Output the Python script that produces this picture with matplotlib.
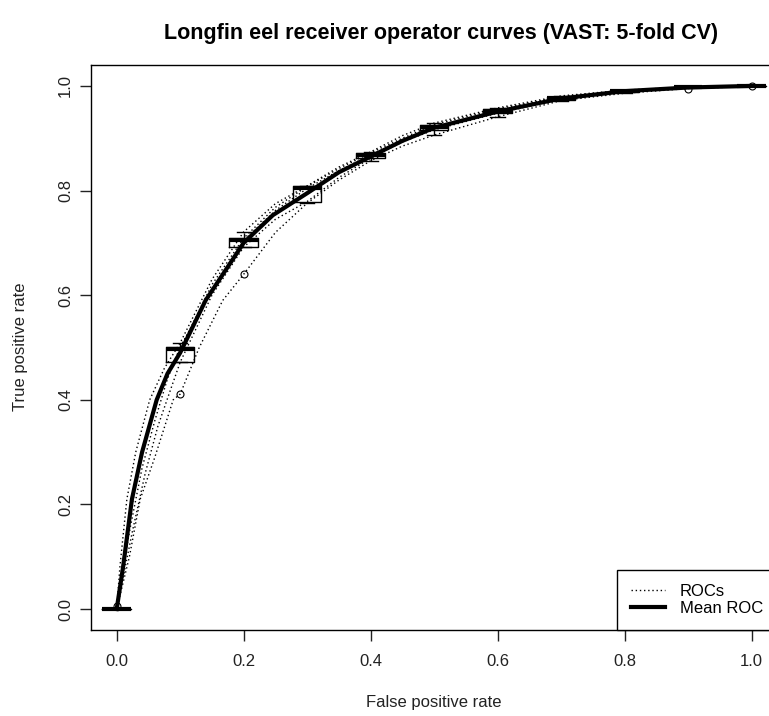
import numpy as np
import matplotlib.pyplot as plt

plt.rcParams['font.family'] = ['Liberation Sans', 'DejaVu Sans']

# ROC-curves van de 5 folds
fpr_1 = [0, .01, .02, .037, .06, .089, .1, .13, .167, .2, .25, .3, .35, .4, .45, .5, .6, .7, .8, .9, 1]
tpr_1 = [0, .05, .10, .21, .29, .40, .411, .50, .59, .64, .72, .776, .82, .857, .885, .906, .941, .972, .986, .995, .999]

fpr_2 = [0, .005, .016, .03, .052, .075, .1, .15, .2, .25, .3, .35, .4, .45, .5, .6, .7, .8, .9, 1]
tpr_2 = [0, .08, .21, .30, .40, .46, .509, .63, .721, .775, .809, .845, .874, .905, .929, .958, .981, .992, .998, 1]

fpr_3 = [0, .008, .02, .035, .055, .08, .1, .15, .2, .25, .3, .35, .4, .45, .5, .6, .7, .8, .9, 1]
tpr_3 = [0, .07, .17, .27, .37, .45, .497, .62, .709, .768, .808, .842, .872, .90, .926, .956, .979, .991, .998, 1]

fpr_4 = [0, .01, .022, .04, .06, .08, .1, .15, .2, .25, .3, .35, .4, .45, .5, .6, .7, .8, .9, 1]
tpr_4 = [0, .08, .16, .27, .36, .44, .501, .61, .705, .762, .804, .838, .868, .896, .921, .952, .977, .990, .998, 1]

fpr_5 = [0, .01, .025, .045, .065, .085, .1, .15, .2, .25, .3, .35, .4, .45, .5, .6, .7, .8, .9, 1]
tpr_5 = [.006, .06, .15, .26, .35, .42, .472, .60, .692, .745, .779, .825, .862, .893, .916, .948, .974, .988, .998, 1]

# gemiddelde ROC
mean_fpr = [0, .01, .024, .04, .063, .08, .1, .14, .2, .246, .3, .35, .4, .45, .5, .6, .7, .8, .9, 1]
mean_tpr = [0, .08, .21, .30, .40, .45, .49, .59, .70, .753, .795, .835, .865, .895, .92, .951, .976, .990, .997, 1]

# posities van de boxplots
box_fpr = [0.0, 0.1, 0.2, 0.3, 0.4, 0.5, 0.6, 0.7, 0.8, 0.9, 1.0]

curves = [(fpr_1, tpr_1), (fpr_2, tpr_2), (fpr_3, tpr_3), (fpr_4, tpr_4), (fpr_5, tpr_5)]

W, H = 769, 716
fig = plt.figure(figsize=(W / 100, H / 100), dpi=100)
ax = fig.add_axes([91.3 / W, 1 - 630 / H, 685.7 / W, 565 / H])

for i, (f, t) in enumerate(curves):
    ax.plot(f, t, color='black', lw=1, ls=(0, (1, 2)),
            label='ROCs' if i == 0 else None)

# spreiding van TPR per vaste FPR (knooppunten zitten in elke curve)
box_data = [[t[list(f).index(x)] for f, t in curves] for x in box_fpr]
ax.boxplot(box_data, positions=box_fpr, widths=0.045, capwidths=0.0225,
           manage_ticks=False, whis=1.5,
           boxprops=dict(color='black', lw=1),
           medianprops=dict(color='black', lw=3),
           whiskerprops=dict(color='black', lw=1, ls='--'),
           capprops=dict(color='black', lw=1),
           flierprops=dict(marker='o', mfc='none', mec='black', ms=5, mew=0.8))

ax.plot(mean_fpr, mean_tpr, color='black', lw=3, label='Mean ROC')

ax.set_xlim(-0.04, 1.04)
ax.set_ylim(-0.04, 1.04)
ticks = [0.0, 0.2, 0.4, 0.6, 0.8, 1.0]
ax.set_xticks(ticks)
ax.set_yticks(ticks)
ax.set_xticklabels(['%.1f' % v for v in ticks])
ax.set_yticklabels(['%.1f' % v for v in ticks], rotation=90, va='center')
ax.tick_params(direction='out', length=8, width=1, labelsize=12,
               colors='#222222')
ax.tick_params(axis='x', pad=9)
ax.tick_params(axis='y', pad=5)
for s in ax.spines.values():
    s.set_linewidth(1)

leg = ax.legend(loc='lower right', borderaxespad=0, fancybox=False,
                edgecolor='black', framealpha=1, fontsize=12,
                handlelength=2.0, handletextpad=0.9, borderpad=0.85,
                labelspacing=0.1)
leg.get_frame().set_linewidth(1)

fig.text(441 / W, 1 - 33 / H, 'Longfin eel receiver operator curves (VAST: 5-fold CV)',
         ha='center', va='center', fontsize=15.5, fontweight='bold')
fig.text(434 / W, 1 - 703 / H, 'False positive rate', ha='center', va='center',
         fontsize=12, color='#222222')
fig.text(21 / W, 1 - 347 / H, 'True positive rate', ha='center', va='center',
         fontsize=12, rotation=90, color='#222222')

fig.savefig('out.png', dpi=100)
